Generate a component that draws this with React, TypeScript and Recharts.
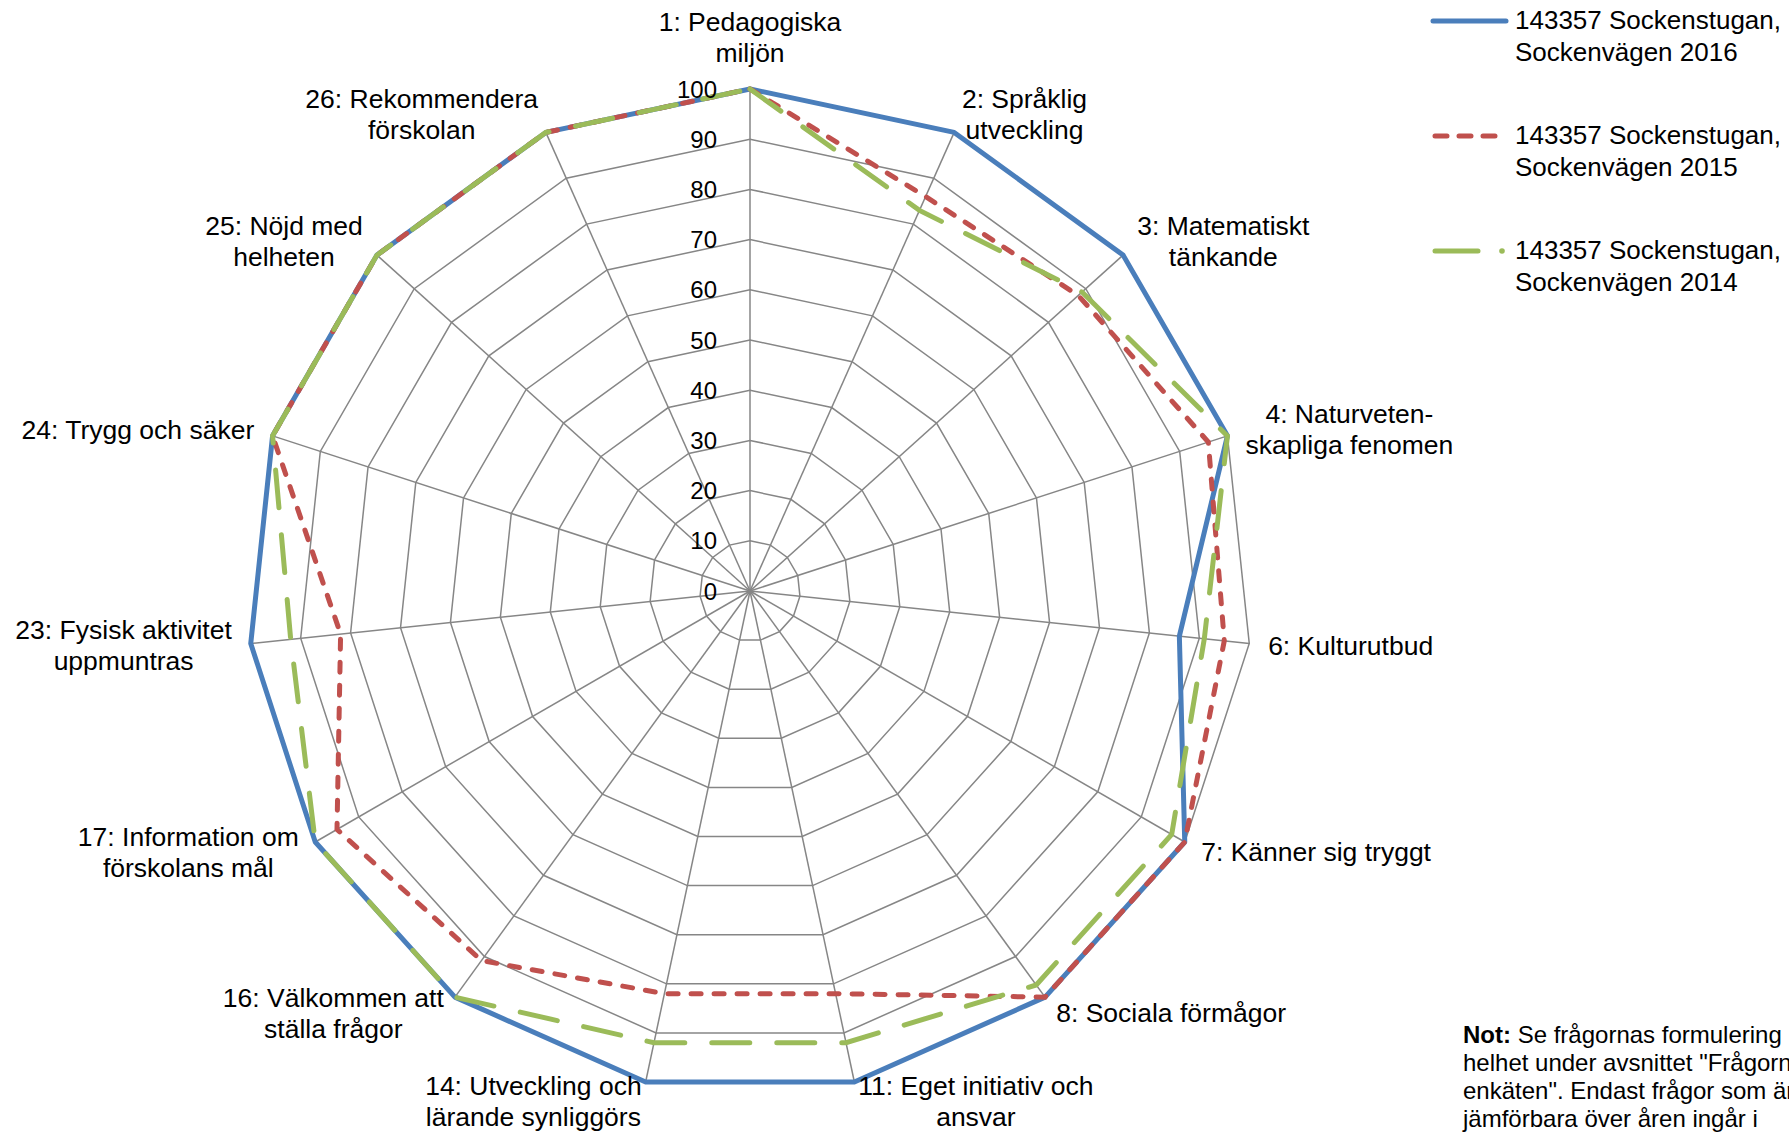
import React from 'react';
import { RadarChart, Radar, PolarGrid, PolarAngleAxis, PolarRadiusAxis } from 'recharts';

const questions = [
  '1: Pedagogiska\nmiljön',
  '2: Språklig\nutveckling',
  '3: Matematiskt\ntänkande',
  '4: Naturveten-\nskapliga fenomen',
  '6: Kulturutbud',
  '7: Känner sig tryggt',
  '8: Sociala förmågor',
  '11: Eget initiativ och\nansvar',
  '14: Utveckling och\nlärande synliggörs',
  '16: Välkommen att\nställa frågor',
  '17: Information om\nförskolans mål',
  '23: Fysisk aktivitet\nuppmuntras',
  '24: Trygg och säker',
  '25: Nöjd med\nhelheten',
  '26: Rekommendera\nförskolan',
];

const values2016 = [100, 100, 100, 100, 86, 100, 100, 100, 100, 100, 100, 100, 100, 100, 100];
const values2015 = [100, 86, 88, 96, 95, 100, 100, 82, 82, 91, 95, 82, 100, 100, 100];
const values2014 = [100, 83, 89, 100, 91, 97, 97, 92, 92, 100, 100, 92, 100, 100, 100];

const seriesNames = [
  '143357 Sockenstugan,\nSockenvägen 2016',
  '143357 Sockenstugan,\nSockenvägen 2015',
  '143357 Sockenstugan,\nSockenvägen 2014',
];

const noteLines = [
  'Se frågornas formulering i',
  'helhet under avsnittet "Frågorna i',
  'enkäten". Endast frågor som är',
  'jämförbara över åren ingår i',
];

const data = questions.map((q, i) => ({
  question: q,
  y2016: values2016[i],
  y2015: values2015[i],
  y2014: values2014[i],
}));

const W = 1789;
const H = 1135;
const CX = 750;
const CY = 591;
const R = 502;
const FONT = '"Liberation Sans", Arial, sans-serif';
const LABEL_SIZE = 26.5;

const BLUE = '#4A7EBB';
const RED = '#C0504D';
const GREEN = '#9BBB59';

let ctx: CanvasRenderingContext2D | null = null;
function textWidth(s: string, size: number) {
  if (!ctx) ctx = document.createElement('canvas').getContext('2d');
  if (!ctx) return s.length * size * 0.5;
  ctx.font = `${size}px ${FONT}`;
  return ctx.measureText(s).width;
}

// places multi-line labels next to the spoke end, like Excel does
const AngleTick = (props: any) => {
  const { x, y, payload } = props;
  const lines = String(payload.value).split('\n');
  const dx = x - CX;
  const dy = y - CY;
  const len = Math.hypot(dx, dy) || 1;
  const s = dx / len;
  const c = -dy / len;
  const px = CX + s * R;
  const py = CY - c * R;
  const lh = 31;
  const h = lines.length * lh;
  const w = Math.max(...lines.map((l) => textWidth(l, LABEL_SIZE)));
  let bx;
  let by;
  if (Math.abs(s) < 0.05) {
    bx = px;
    by = py - c * (h / 2 + 21);
  } else {
    bx = px + Math.sign(s) * (w / 2 + 19 * Math.abs(s));
    by = py - 20 * c;
  }
  return (
    <g>
      {lines.map((l, i) => (
        <text
          key={i}
          x={bx}
          y={by - h / 2 + lh / 2 + i * lh}
          textAnchor="middle"
          dominantBaseline="central"
          fontSize={LABEL_SIZE}
          fontFamily={FONT}
          fill="#000"
        >
          {l}
        </text>
      ))}
    </g>
  );
};

const RadiusTick = (props: any) => {
  const { x, y, payload } = props;
  return (
    <text
      x={x - 33}
      y={y}
      textAnchor="end"
      dominantBaseline="central"
      fontSize={24}
      fontFamily={FONT}
      fill="#000"
    >
      {payload.value}
    </text>
  );
};

const LegendSample = ({ index }: { index: number }) => {
  if (index === 0) {
    return <line x1={3} y1={8} x2={76} y2={8} stroke={BLUE} strokeWidth={5} strokeLinecap="round" />;
  }
  if (index === 1) {
    return (
      <line x1={5} y1={8} x2={70} y2={8} stroke={RED} strokeWidth={5} strokeLinecap="round" strokeDasharray="12 12" />
    );
  }
  return (
    <g>
      <line x1={5} y1={8} x2={48} y2={8} stroke={GREEN} strokeWidth={5} strokeLinecap="round" />
      <circle cx={72} cy={8} r={2.8} fill={GREEN} />
    </g>
  );
};

export default function App() {
  return (
    <div
      style={{
        position: 'absolute',
        left: 0,
        top: 0,
        width: W,
        height: H,
        overflow: 'hidden',
        background: '#fff',
        fontFamily: FONT,
      }}
    >
      <RadarChart
        width={W}
        height={H}
        data={data}
        cx={CX}
        cy={CY}
        outerRadius={R}
        margin={{ top: 0, right: 0, bottom: 0, left: 0 }}
      >
        <PolarGrid gridType="polygon" stroke="#868686" strokeWidth={1.5} />
        <PolarAngleAxis dataKey="question" tick={<AngleTick />} tickLine={false} axisLine={false} />
        <PolarRadiusAxis
          angle={90}
          domain={[0, 100]}
          tickCount={11}
          axisLine={false}
          tickLine={false}
          tick={<RadiusTick />}
        />
        <Radar
          dataKey="y2016"
          stroke={BLUE}
          strokeWidth={5}
          fill="none"
          fillOpacity={0}
          dot={false}
          strokeLinejoin="round"
          isAnimationActive={false}
        />
        <Radar
          dataKey="y2015"
          stroke={RED}
          strokeWidth={5}
          strokeDasharray="10 13"
          strokeLinecap="round"
          fill="none"
          fillOpacity={0}
          dot={false}
          isAnimationActive={false}
        />
        <Radar
          dataKey="y2014"
          stroke={GREEN}
          strokeWidth={5}
          strokeDasharray="38 27"
          strokeLinecap="round"
          fill="none"
          fillOpacity={0}
          dot={false}
          isAnimationActive={false}
        />
      </RadarChart>

      {seriesNames.map((name, i) => (
        <div key={name} style={{ position: 'absolute', left: 1430, top: 4 + i * 115 }}>
          <svg width={80} height={16} style={{ position: 'absolute', left: 0, top: 9 }}>
            <LegendSample index={i} />
          </svg>
          <div
            style={{
              position: 'absolute',
              left: 85,
              top: 0,
              fontSize: 26,
              lineHeight: '32px',
              whiteSpace: 'pre',
              color: '#000',
            }}
          >
            {name}
          </div>
        </div>
      ))}

      <div
        style={{
          position: 'absolute',
          left: 1463,
          top: 1021,
          fontSize: 24,
          lineHeight: '28px',
          whiteSpace: 'nowrap',
          color: '#000',
        }}
      >
        {noteLines.map((l, i) => (
          <div key={i}>
            {i === 0 && <b>Not: </b>}
            {l}
          </div>
        ))}
      </div>
    </div>
  );
}
